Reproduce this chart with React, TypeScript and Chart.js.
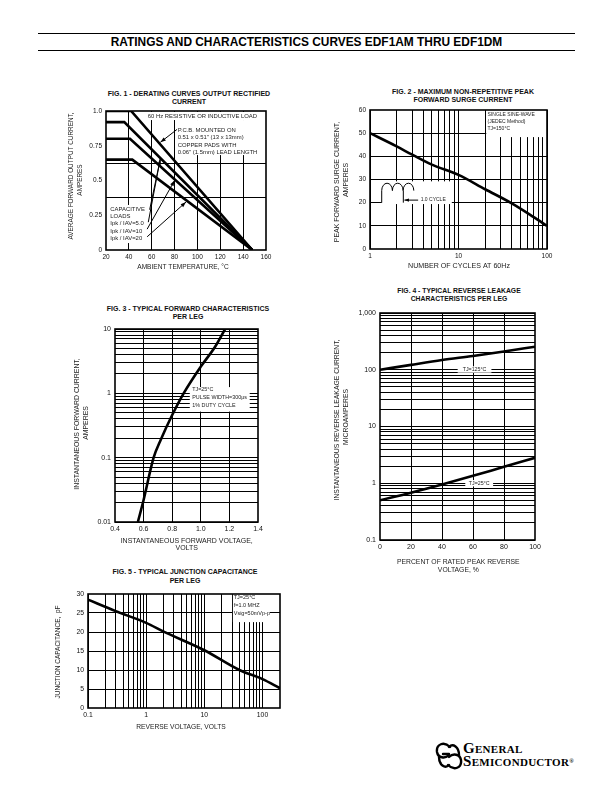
import React, { useEffect, useRef } from 'react';
import { Chart, registerables } from 'chart.js';
Chart.register(...registerables);

const FONT = "'Liberation Sans', Arial, Helvetica, sans-serif";

// ---------------- FIG 1 : derating curves ----------------
const fig1XLabelValues = [20, 40, 60, 80, 100, 120, 140, 160];
const fig1XLabels = ['20', '40', '60', '80', '100', '120', '140', '160'];
const fig1XGrid = [40, 60, 80, 100, 120, 140];
const fig1YLabelValues = [0, 0.25, 0.5, 0.75, 1.0];
const fig1YLabels = ['0', '0.25', '0.5', '0.75', '1.0'];
const fig1YGrid = [0.375, 0.625];
const fig1ResTemp = [20, 42, 148];
const fig1ResCurr = [1.0, 1.0, 0];
const fig1Cap5Temp = [20, 36, 148];
const fig1Cap5Curr = [0.92, 0.92, 0];
const fig1Cap10Temp = [20, 41, 148];
const fig1Cap10Curr = [0.8, 0.8, 0];
const fig1Cap20Temp = [20, 43, 148];
const fig1Cap20Curr = [0.65, 0.65, 0];

// ---------------- FIG 2 : surge current ----------------
const fig2Cycles = [1, 2, 3, 5, 10, 20, 40, 70, 100];
const fig2Surge = [50, 44.3, 40.7, 36.4, 32, 25.8, 19.7, 13.9, 10];
const fig2XLabelValues = [1, 10, 100];
const fig2XLabels = ['1', '10', '100'];
const fig2YLabelValues = [0, 10, 20, 30, 40, 50, 60];
const fig2YLabels = ['0', '10', '20', '30', '40', '50', '60'];
const fig2YGrid = [10, 20, 30, 40, 50];

// ---------------- FIG 3 : forward characteristics ----------------
const fig3Volt = [0.56, 0.6, 0.67, 0.72, 0.8, 0.88, 1.0, 1.1, 1.17];
const fig3Amp = [0.01, 0.022, 0.1, 0.19, 0.46, 1.0, 2.6, 5.3, 10];
const fig3XLabelValues = [0.4, 0.6, 0.8, 1.0, 1.2, 1.4];
const fig3XLabels = ['0.4', '0.6', '0.8', '1.0', '1.2', '1.4'];
const fig3XGrid = [0.6, 0.8, 1.0, 1.2];
const fig3YLabelValues = [0.01, 0.1, 1, 10];
const fig3YLabels = ['0.01', '0.1', '1', '10'];

// ---------------- FIG 4 : reverse leakage ----------------
const fig4Percent = [0, 20, 40, 60, 80, 100];
const fig4Leak125 = [100, 122, 148, 175, 210, 255];
const fig4Leak25 = [0.5, 0.68, 0.95, 1.35, 1.95, 2.8];
const fig4XLabelValues = [0, 20, 40, 60, 80, 100];
const fig4XLabels = ['0', '20', '40', '60', '80', '100'];
const fig4XGrid = [20, 40, 60, 80];
const fig4YLabelValues = [0.1, 1, 10, 100, 1000];
const fig4YLabels = ['0.1', '1', '10', '100', '1,000'];

// ---------------- FIG 5 : junction capacitance ----------------
const fig5Volt = [0.1, 0.3, 1, 2, 10, 40, 100, 200];
const fig5Cap = [28.5, 25.5, 22.4, 20.1, 15.2, 10, 7.6, 5.2];
const fig5XLabelValues = [0.1, 1, 10, 100];
const fig5XLabels = ['0.1', '1', '10', '100'];
const fig5YLabelValues = [0, 5, 10, 15, 20, 25, 30];
const fig5YLabels = ['0', '5', '10', '15', '20', '25', '30'];
const fig5YGrid = [5, 10, 15, 20, 25];

// ---------------- helpers ----------------
const near = (v: number, w: number) => Math.abs(v - w) <= Math.abs(w) * 1e-6 + 1e-9;
function labelFor(values: number[], labels: string[]) {
  return (v: number) => {
    for (let i = 0; i < values.length; i++) if (near(v, values[i])) return labels[i];
    return '';
  };
}
const onList = (values: number[]) => (v: number) => values.some((w) => near(v, w));
function union(...lists: number[][]) {
  const out: number[] = [];
  lists.flat().forEach((v) => { if (!out.some((w) => near(v, w))) out.push(v); });
  return out.sort((a, b) => a - b);
}
// log grid positions 1..9 x 10^k between two decades
function decades(from: number, to: number): number[] {
  const out: number[] = [];
  for (let e = Math.round(Math.log10(from)); e < Math.round(Math.log10(to)); e++) {
    for (let m = 1; m <= 9; m++) out.push(Number((m * Math.pow(10, e)).toPrecision(6)));
  }
  out.push(to);
  return out;
}

function scale(o: any) {
  const lab = labelFor(o.labelValues, o.labels);
  const isGrid = onList(o.grid);
  return {
    type: o.type,
    position: o.pos,
    min: o.min,
    max: o.max,
    afterBuildTicks: (s: any) => { s.ticks = o.ticks.map((v: number) => ({ value: v })); },
    afterFit: (s: any) => {
      if (o.pos === 'left') s.width = o.size; else s.height = o.size;
      s.paddingLeft = 0; s.paddingRight = 0; s.paddingTop = 0; s.paddingBottom = 0;
    },
    ticks: {
      autoSkip: false, maxRotation: 0, minRotation: 0, padding: o.tickPad ?? 3, color: '#111',
      font: { family: FONT, size: o.tickSize },
      callback: (v: any) => lab(Number(v)),
    },
    grid: {
      drawTicks: false, lineWidth: 1,
      color: (c: any) => (c.tick && isGrid(c.tick.value) ? '#000' : 'rgba(0,0,0,0)'),
    },
    border: { display: false },
    title: { display: false },
  };
}

function series(xs: number[], ys: number[], smooth: boolean, width = 2.6) {
  return {
    data: xs.map((x, i) => ({ x, y: ys[i] })),
    borderColor: '#000', backgroundColor: '#000', borderWidth: width,
    pointRadius: 0, showLine: true, fill: false, tension: 0,
    cubicInterpolationMode: smooth ? 'monotone' : 'default',
  };
}

function drawAnn(chart: any, items: any[], phase: string) {
  const { ctx } = chart;
  const X = (v: number) => chart.scales.x.getPixelForValue(v);
  const Y = (v: number) => chart.scales.y.getPixelForValue(v);
  ctx.save();
  for (const a of items) {
    if (phase === 'under') {
      if (a.k === 'box') {
        const x0 = X(a.x0), x1 = X(a.x1), y0 = Y(a.y0), y1 = Y(a.y1);
        ctx.fillStyle = '#fff';
        ctx.fillRect(Math.min(x0, x1), Math.min(y0, y1), Math.abs(x1 - x0), Math.abs(y1 - y0));
      } else if (a.k === 'text') {
        ctx.font = `${a.size}px ${FONT}`;
        ctx.textBaseline = 'middle';
        ctx.textAlign = a.align || 'left';
        const x = X(a.x), y = Y(a.y);
        a.lines.forEach((s: string, i: number) => {
          const yy = y + i * (a.lh || 0);
          if (a.bg) {
            const w = ctx.measureText(s).width;
            const left = a.align === 'center' ? x - w / 2 : x;
            ctx.fillStyle = '#fff';
            ctx.fillRect(left - a.bg, yy - a.size * 0.6, w + 2 * a.bg, a.size * 1.2);
          }
          ctx.fillStyle = '#222';
          ctx.fillText(s, x, yy);
        });
      }
    } else {
      ctx.strokeStyle = '#000';
      ctx.fillStyle = '#000';
      if (a.k === 'seg' || a.k === 'arrow') {
        const x0 = X(a.x0), y0 = Y(a.y0), x1 = X(a.x1), y1 = Y(a.y1);
        ctx.lineWidth = a.w || 1;
        ctx.beginPath(); ctx.moveTo(x0, y0); ctx.lineTo(x1, y1); ctx.stroke();
        if (a.k === 'arrow' && a.head !== false) {
          const ang = Math.atan2(y1 - y0, x1 - x0);
          const L = a.hl || 5.5, W = a.hw || 1.9;
          ctx.beginPath();
          ctx.moveTo(x1, y1);
          ctx.lineTo(x1 - L * Math.cos(ang) + W * Math.sin(ang), y1 - L * Math.sin(ang) - W * Math.cos(ang));
          ctx.lineTo(x1 - L * Math.cos(ang) - W * Math.sin(ang), y1 - L * Math.sin(ang) + W * Math.cos(ang));
          ctx.closePath(); ctx.fill();
        }
      } else if (a.k === 'humps') {
        const x = X(a.x), y = Y(a.y);
        ctx.lineWidth = a.lw || 1;
        ctx.beginPath();
        for (let i = 0; i < a.n; i++) {
          ctx.moveTo(x + a.w * i, y);
          ctx.ellipse(x + a.w * (i + 0.5), y, a.w / 2, a.h, 0, Math.PI, 2 * Math.PI);
        }
        ctx.stroke();
      }
    }
  }
  ctx.restore();
}

// axis titles: each line is centred on a page point; rot = vertical (reads bottom-to-top)
function drawTitles(chart: any, f: any, titles: any[]) {
  const { ctx } = chart;
  ctx.save();
  ctx.fillStyle = '#222';
  ctx.textAlign = 'center';
  ctx.textBaseline = 'middle';
  for (const t of titles) {
    ctx.font = `${t.size}px ${FONT}`;
    t.lines.forEach((s: string, i: number) => {
      const [cx, cy] = t.at[i];
      ctx.save();
      ctx.translate(cx - f.l, cy - f.t);
      if (t.rot) ctx.rotate(-Math.PI / 2);
      ctx.fillText(s, 0, 0);
      ctx.restore();
    });
  }
  ctx.restore();
}

function buildConfig(f: any, x: any, y: any, datasets: any[], anns: any[], titles: any[]) {
  const plugin = {
    id: 'ann',
    beforeDatasetsDraw(chart: any) { drawAnn(chart, anns, 'under'); },
    afterDatasetsDraw(chart: any) {
      drawAnn(chart, anns, 'over');
      const { ctx, chartArea: a } = chart;
      ctx.save();
      ctx.strokeStyle = '#000';
      ctx.lineWidth = 1.6;
      ctx.strokeRect(a.left, a.top, a.right - a.left, a.bottom - a.top);
      ctx.restore();
      drawTitles(chart, f, titles);
    },
  };
  return {
    type: 'scatter',
    data: { datasets },
    options: {
      responsive: false, maintainAspectRatio: false, animation: false, events: [],
      layout: { padding: { left: 0, top: f.plotT - f.t, right: f.l + f.w - f.plotR, bottom: 0 } },
      plugins: { legend: { display: false }, tooltip: { enabled: false }, title: { display: false } },
      scales: { x, y },
    },
    plugins: [plugin],
  };
}

function Figure({ f, make }: any) {
  const ref = useRef<HTMLCanvasElement>(null);
  useEffect(() => {
    const chart = new Chart(ref.current as any, make(f) as any);
    return () => chart.destroy();
  }, []);
  return (
    <canvas ref={ref} width={f.w} height={f.h}
      style={{ position: 'absolute', left: f.l, top: f.t, width: f.w, height: f.h }} />
  );
}

// ---------------- figure frames (canvas box + plot area) ----------------
const F1 = { l: 62, t: 104, w: 214, h: 170, plotL: 106, plotT: 111, plotR: 266, plotB: 250 };
const F2 = { l: 328, t: 103, w: 228, h: 171, plotL: 370, plotT: 110, plotR: 547, plotB: 249 };
const F3 = { l: 68, t: 322, w: 200, h: 234, plotL: 115, plotT: 329, plotR: 258, plotB: 522 };
const F4 = { l: 328, t: 306, w: 217, h: 270, plotL: 380, plotT: 313, plotR: 535, plotB: 540 };
const F5 = { l: 50, t: 588, w: 240, h: 146, plotL: 88, plotT: 594, plotR: 280, plotB: 708 };

const xSize = (f: any) => f.t + f.h - f.plotB;
const ySize = (f: any) => f.plotL - f.l;

const make1 = (f: any) => buildConfig(
  f,
  scale({ type: 'linear', pos: 'bottom', min: 20, max: 160, ticks: union(fig1XLabelValues, fig1XGrid),
    labelValues: fig1XLabelValues, labels: fig1XLabels, grid: fig1XGrid, size: xSize(f), tickSize: 6.5 }),
  scale({ type: 'linear', pos: 'left', min: 0, max: 1.0, ticks: union(fig1YLabelValues, fig1YGrid),
    labelValues: fig1YLabelValues, labels: fig1YLabels, grid: fig1YGrid, size: ySize(f), tickSize: 6.5, tickPad: 4 }),
  [
    series(fig1ResTemp, fig1ResCurr, false),
    series(fig1Cap5Temp, fig1Cap5Curr, false),
    series(fig1Cap10Temp, fig1Cap10Curr, false),
    series(fig1Cap20Temp, fig1Cap20Curr, false),
  ],
  [
    { k: 'box', x0: 54.1, x1: 158.5, y0: 0.993, y1: 0.935 },
    { k: 'text', x: 56.5, y: 0.962, size: 5.9, lines: ['60 Hz RESISTIVE OR INDUCTIVE LOAD'] },
    { k: 'box', x0: 81.2, x1: 158.5, y0: 0.935, y1: 0.683 },
    { k: 'text', x: 82.7, y: 0.858, size: 5.9, lh: 7.1,
      lines: ['P.C.B. MOUNTED ON', '0.51 x 0.51" (13 x 13mm)', 'COPPER PADS WITH', '0.06" (1.5mm) LEAD LENGTH'] },
    { k: 'box', x0: 21.75, x1: 58.5, y0: 0.324, y1: 0.05 },
    { k: 'text', x: 23.8, y: 0.295, size: 5.9, lh: 7.3,
      lines: ['CAPACITIVE', 'LOADS', 'Ipk / IAV=5.0', 'Ipk / IAV=10', 'Ipk / IAV=20'] },
    { k: 'arrow', x0: 82.2, y0: 0.868, x1: 67.6, y1: 0.775 },
    { k: 'arrow', x0: 58.2, y0: 0.29, x1: 67.5, y1: 0.655, head: false },
    { k: 'arrow', x0: 57, y0: 0.2, x1: 67.5, y1: 0.655 },
    { k: 'arrow', x0: 56, y0: 0.15, x1: 80, y1: 0.5 },
    { k: 'arrow', x0: 56, y0: 0.095, x1: 90, y1: 0.345 },
  ],
  [
    { lines: ['AVERAGE FORWARD OUTPUT CURRENT,', 'AMPERES'], size: 6.4, rot: true, at: [[71.7, 176], [80.7, 180]] },
    { lines: ['AMBIENT TEMPERATURE, °C'], size: 6.6, at: [[183, 267.5]] },
  ],
);

const fig2XTicks = decades(1, 100);
const make2 = (f: any) => buildConfig(
  f,
  scale({ type: 'logarithmic', pos: 'bottom', min: 1, max: 100, ticks: fig2XTicks,
    labelValues: fig2XLabelValues, labels: fig2XLabels, grid: fig2XTicks, size: xSize(f), tickSize: 6.5 }),
  scale({ type: 'linear', pos: 'left', min: 0, max: 60, ticks: fig2YLabelValues,
    labelValues: fig2YLabelValues, labels: fig2YLabels, grid: fig2YGrid, size: ySize(f), tickSize: 6.5, tickPad: 4 }),
  [series(fig2Cycles, fig2Surge, true)],
  [
    { k: 'box', x0: 20.6, x1: 100, y0: 60, y1: 48.3 },
    { k: 'text', x: 21.3, y: 58.1, size: 5.0, lh: 7.0, lines: ['SINGLE SINE-WAVE', '(JEDEC Method)', 'TJ=150°C'] },
    { k: 'box', x0: 1.356, x1: 8.4, y0: 29.2, y1: 19.4 },
    { k: 'text', x: 3.74, y: 21.3, size: 5.0, lines: ['1.0 CYCLE'] },
    { k: 'humps', x: 1.356, y: 25.2, n: 3, w: 10.7, h: 7.4, lw: 1 },
    { k: 'seg', x0: 1.356, y0: 25.2, x1: 1.356, y1: 20 },
    { k: 'seg', x0: 2.38, y0: 25.2, x1: 2.38, y1: 20 },
    { k: 'arrow', x0: 3.5, y0: 21.1, x1: 2.45, y1: 21.1, hl: 4.5, hw: 1.6 },
  ],
  [
    { lines: ['PEAK FORWARD SURGE CURRENT,', 'AMPERES'], size: 7, rot: true, at: [[336.7, 182], [346, 180]] },
    { lines: ['NUMBER OF CYCLES AT 60Hz'], size: 7.1, at: [[459, 266]] },
  ],
);

const fig3YTicks = decades(0.01, 10);
const make3 = (f: any) => buildConfig(
  f,
  scale({ type: 'linear', pos: 'bottom', min: 0.4, max: 1.4, ticks: fig3XLabelValues,
    labelValues: fig3XLabelValues, labels: fig3XLabels, grid: fig3XGrid, size: xSize(f), tickSize: 7 }),
  scale({ type: 'logarithmic', pos: 'left', min: 0.01, max: 10, ticks: fig3YTicks,
    labelValues: fig3YLabelValues, labels: fig3YLabels, grid: fig3YTicks, size: ySize(f), tickSize: 7, tickPad: 4 }),
  [series(fig3Volt, fig3Amp, true)],
  [
    { k: 'box', x0: 0.923, x1: 1.342, y0: 1.25, y1: 0.52 },
    { k: 'text', x: 0.94, y: 1.13, size: 5.4, lh: 8, lines: ['TJ=25°C', 'PULSE WIDTH=300μs', '1% DUTY CYCLE'] },
  ],
  [
    { lines: ['INSTANTANEOUS FORWARD CURRENT,', 'AMPERES'], size: 6.9, rot: true, at: [[76.7, 424], [86, 423]] },
    { lines: ['INSTANTANEOUS FORWARD VOLTAGE,', 'VOLTS'], size: 7, at: [[186.7, 540.7], [186.7, 548.5]] },
  ],
);

const fig4YTicks = decades(0.1, 1000);
const make4 = (f: any) => buildConfig(
  f,
  scale({ type: 'linear', pos: 'bottom', min: 0, max: 100, ticks: fig4XLabelValues,
    labelValues: fig4XLabelValues, labels: fig4XLabels, grid: fig4XGrid, size: xSize(f), tickSize: 7 }),
  scale({ type: 'logarithmic', pos: 'left', min: 0.1, max: 1000, ticks: fig4YTicks,
    labelValues: fig4YLabelValues, labels: fig4YLabels, grid: fig4YTicks, size: ySize(f), tickSize: 7, tickPad: 4 }),
  [series(fig4Percent, fig4Leak125, true), series(fig4Percent, fig4Leak25, true)],
  [
    { k: 'text', x: 61, y: 101, size: 5.3, align: 'center', bg: 5, lines: ['TJ=125°C'] },
    { k: 'text', x: 64, y: 1.0, size: 5.3, align: 'center', bg: 3.5, lines: ['TJ=25°C'] },
  ],
  [
    { lines: ['INSTANTANEOUS REVERSE LEAKAGE CURRENT,', 'MICROAMPERES'], size: 6.8, rot: true, at: [[336.7, 420], [346, 417]] },
    { lines: ['PERCENT OF RATED PEAK REVERSE', 'VOLTAGE, %'], size: 6.8, at: [[458.3, 561.7], [458.3, 570]] },
  ],
);

const fig5XTicks = union(decades(0.1, 100), [200]);
const make5 = (f: any) => buildConfig(
  f,
  scale({ type: 'logarithmic', pos: 'bottom', min: 0.1, max: 200, ticks: fig5XTicks,
    labelValues: fig5XLabelValues, labels: fig5XLabels, grid: decades(0.1, 100), size: xSize(f), tickSize: 6.8 }),
  scale({ type: 'linear', pos: 'left', min: 0, max: 30, ticks: fig5YLabelValues,
    labelValues: fig5YLabelValues, labels: fig5YLabels, grid: fig5YGrid, size: ySize(f), tickSize: 6.8, tickPad: 4 }),
  [series(fig5Volt, fig5Cap, true)],
  [
    { k: 'box', x0: 31, x1: 134, y0: 30, y1: 22.6 },
    { k: 'text', x: 32, y: 29.1, size: 5.5, lh: 7.8, lines: ['TJ=25°C', 'f=1.0 MHZ', 'Vsig=50mVp-p'] },
  ],
  [
    { lines: ['JUNCTION CAPACITANCE,  pF'], size: 6.5, rot: true, at: [[58.3, 652]] },
    { lines: ['REVERSE VOLTAGE, VOLTS'], size: 6.7, at: [[181, 726.7]] },
  ],
);

function FigTitle({ cx, cy, lines, size = 7, lh = 8.5 }: any) {
  return (
    <div style={{
      position: 'absolute', left: cx - 130, width: 260, top: cy - lh / 2, textAlign: 'center',
      fontFamily: FONT, fontWeight: 'bold', fontSize: size, lineHeight: `${lh}px`, color: '#111', whiteSpace: 'nowrap',
    }}>
      {lines.map((s: string, i: number) => <div key={i}>{s}</div>)}
    </div>
  );
}

export default function App() {
  return (
    <div style={{ position: 'absolute', left: 0, top: 0, width: 612, height: 792, background: '#fff', overflow: 'hidden' }}>
      <div style={{ position: 'absolute', left: 38, top: 32.5, width: 537, borderTop: '1.3px solid #000' }} />
      <div style={{ position: 'absolute', left: 38, top: 50, width: 537, borderTop: '1.3px solid #000' }} />
      <div style={{
        position: 'absolute', left: 38, top: 35, width: 537, height: 14, lineHeight: '14px', textAlign: 'center',
        fontFamily: FONT, fontWeight: 'bold', fontSize: 11.9, color: '#000', whiteSpace: 'nowrap',
      }}>RATINGS AND CHARACTERISTICS CURVES EDF1AM THRU EDF1DM</div>

      <FigTitle cx={189} cy={94} lines={['FIG. 1 - DERATING CURVES OUTPUT RECTIFIED', 'CURRENT']} />
      <FigTitle cx={463} cy={92} lines={['FIG. 2 - MAXIMUM NON-REPETITIVE PEAK', 'FORWARD SURGE CURRENT']} />
      <FigTitle cx={188} cy={309} lines={['FIG. 3 - TYPICAL FORWARD CHARACTERISTICS', 'PER LEG']} />
      <FigTitle cx={459} cy={291} size={6.8} lines={['FIG. 4 - TYPICAL REVERSE LEAKAGE', 'CHARACTERISTICS PER LEG']} />
      <FigTitle cx={185} cy={572.5} lines={['FIG. 5 - TYPICAL JUNCTION CAPACITANCE', 'PER LEG']} />

      <Figure f={F1} make={make1} />
      <Figure f={F2} make={make2} />
      <Figure f={F3} make={make3} />
      <Figure f={F4} make={make4} />
      <Figure f={F5} make={make5} />

      <svg style={{ position: 'absolute', left: 435, top: 741 }} width={28} height={30} viewBox="0 0 28 30">
        <g fill="none" stroke="#000" strokeWidth={2.4} strokeLinecap="round">
          <path d="M15 6 C 9 0, 1 3, 2 11 C 3 17, 10 18, 14 14" />
          <path d="M13 24 C 19 30, 27 27, 26 19 C 25 13, 18 12, 14 16" />
          <path d="M4 16 C 4 24, 10 28, 14 24" />
          <path d="M24 14 C 24 6, 18 2, 14 6" />
          <path d="M8 13 L 14 13" />
        </g>
      </svg>
      <div style={{
        position: 'absolute', left: 463, top: 742, fontFamily: "'Liberation Serif', 'DejaVu Serif', serif",
        fontVariant: 'small-caps', fontWeight: 'bold', fontSize: 15, lineHeight: '13.4px', color: '#000',
        letterSpacing: 0.3, whiteSpace: 'nowrap',
      }}>
        <div>General</div>
        <div>Semiconductor<span style={{ fontSize: 6, verticalAlign: 'top', fontVariant: 'normal' }}>®</span></div>
      </div>
    </div>
  );
}
